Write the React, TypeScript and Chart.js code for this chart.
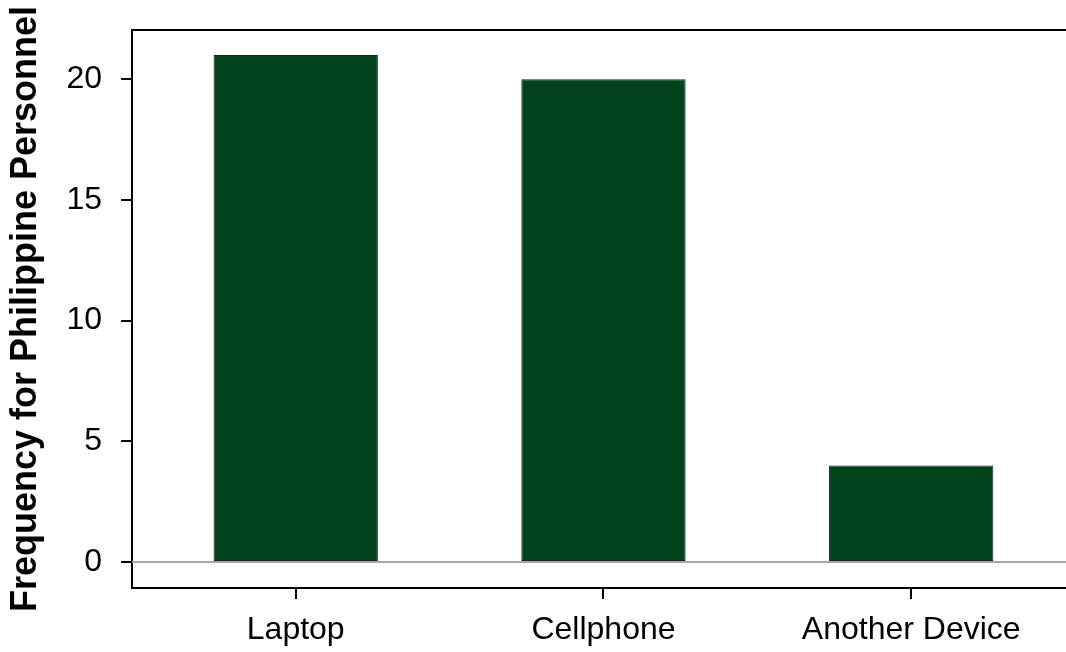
import React, { useEffect, useRef } from "react";
import { Chart, registerables } from "chart.js";

Chart.register(...registerables);

const categories: string[] = ["Laptop", "Cellphone", "Another Device"];
const frequencies: number[] = [21, 20, 4];
const yTickValues: number[] = [0, 5, 10, 15, 20];
const yTitle = "Frequency for Philippine Personnel";

const FONT = "'Liberation Sans', Arial, Helvetica, sans-serif";

const boxPlugin = {
  id: "boxPlugin",
  beforeDatasetsDraw(chart: any) {
    const { ctx, chartArea, scales } = chart;
    const y0 = scales.y.getPixelForValue(0);
    ctx.save();
    ctx.strokeStyle = "#a6a6a6";
    ctx.lineWidth = 2;
    ctx.beginPath();
    ctx.moveTo(chartArea.left, y0);
    ctx.lineTo(chartArea.right, y0);
    ctx.stroke();
    ctx.restore();
  },
  afterDraw(chart: any) {
    const { ctx, chartArea } = chart;
    ctx.save();
    ctx.strokeStyle = "#000";
    ctx.lineWidth = 2;
    ctx.beginPath();
    ctx.moveTo(chartArea.left - 1, chartArea.top);
    ctx.lineTo(chartArea.right, chartArea.top);
    ctx.stroke();
    ctx.restore();
  },
};

export default function App() {
  const ref = useRef<HTMLCanvasElement>(null);
  useEffect(() => {
    if (!ref.current) return;
    const chart = new Chart(ref.current, {
      type: "bar",
      data: {
        datasets: [
          {
            data: frequencies.map((v, i) => ({ x: i, y: v })),
            backgroundColor: "#02421d",
            borderColor: "#222",
            borderWidth: 1,
            borderSkipped: false,
            barPercentage: 0.534,
            categoryPercentage: 1,
          },
        ],
      },
      options: {
        animation: false,
        responsive: false,
        events: [],
        layout: { padding: { top: 30, right: 0, left: 0, bottom: 0 } },
        plugins: {
          legend: { display: false },
          tooltip: { enabled: false },
          title: { display: false },
        },
        scales: {
          x: {
            type: "linear",
            min: -0.532,
            max: 2.503,
            offset: false,
            afterFit: (s: any) => {
              s.height = 64;
              s.paddingLeft = 0;
              s.paddingRight = 0;
            },
            afterBuildTicks: (s: any) => {
              s.ticks = categories.map((_, i) => ({ value: i }));
            },
            ticks: {
              callback: (v: any) => categories[Math.round(Number(v))] ?? "",
              color: "#000",
              font: { family: FONT, size: 32 },
              padding: 12,
              maxRotation: 0,
              autoSkip: false,
            },
            grid: {
              display: true,
              offset: false,
              drawOnChartArea: false,
              drawTicks: true,
              tickLength: 11,
              color: "#000",
              tickColor: "#000",
              lineWidth: 2,
            },
            border: { display: true, color: "#000", width: 2 },
          },
          y: {
            type: "linear",
            min: -1.077,
            max: 22.04,
            afterFit: (s: any) => {
              s.width = 132;
              s.paddingTop = 0;
              s.paddingBottom = 0;
            },
            afterBuildTicks: (s: any) => {
              s.ticks = yTickValues.map((v) => ({ value: v }));
            },
            ticks: {
              color: "#000",
              font: { family: FONT, size: 32 },
              padding: 19,
            },
            grid: {
              display: true,
              drawOnChartArea: false,
              drawTicks: true,
              tickLength: 11,
              color: "#000",
              tickColor: "#000",
              lineWidth: 2,
            },
            border: { display: true, color: "#000", width: 2 },
            title: {
              display: true,
              text: yTitle,
              color: "#000",
              font: { family: FONT, size: 36, weight: "bold" },
              padding: { top: 4, bottom: 0 },
            },
          },
        },
      },
      plugins: [boxPlugin],
    });
    return () => chart.destroy();
  }, []);
  return (
    <div style={{ position: "absolute", left: 0, top: 0, width: 1066, height: 652, background: "#fff" }}>
      <canvas ref={ref} width={1066} height={652} style={{ display: "block" }} />
    </div>
  );
}
